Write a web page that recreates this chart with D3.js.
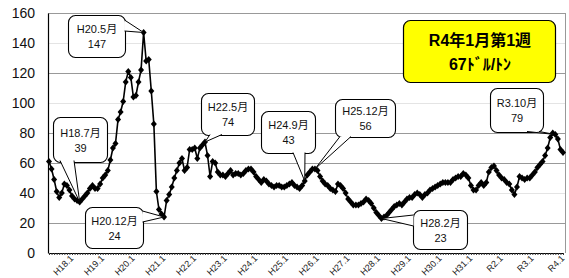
<!DOCTYPE html>
<html>
<head>
<meta charset="utf-8">
<script src="https://cdn.jsdelivr.net/npm/d3@7"></script>
<style>
  body { margin: 0; background: #fff; }
  svg { display: block; font-family: "Liberation Sans", Arial, "Noto Sans CJK JP", sans-serif; }
</style>
</head>
<body>
<svg id="chart"></svg>
<script>
// monthly price ($/t), H17.4 .. R4.1
const p2005 = [61, 56, 49, 41, 37, 40, 46, 45, 42];
const p2006 = [38, 36, 35, 34, 36, 38, 40, 43, 45, 43, 43, 46];
const p2007 = [50, 52, 55, 62, 70, 73, 89, 94, 101, 114, 121, 117];
const p2008 = [104, 105, 114, 122, 147, 128, 129, 108, 86, 41, 29, 26];
const p2009 = [24, 35, 39, 44, 50, 55, 60, 63, 55, 57, 69, 69];
const p2010 = [70, 63, 70, 72, 74, 65, 51, 61, 60, 54, 52, 52];
const p2011 = [51, 53, 55, 52, 53, 53, 52, 53, 55, 56, 56, 54];
const p2012 = [51, 49, 47, 49, 48, 46, 45, 44, 45, 45, 44, 44];
const p2013 = [45, 46, 47, 45, 44, 43, 45, 48, 52, 54, 56, 56];
const p2014 = [55, 51, 48, 46, 45, 43, 42, 41, 46, 45, 43, 40];
const p2015 = [36, 34, 32, 32, 32, 33, 34, 36, 35, 33, 30, 27];
const p2016 = [25, 23, 24, 25, 27, 29, 31, 32, 33, 32, 34, 36];
const p2017 = [37, 37, 39, 40, 39, 37, 39, 40, 42, 43, 44, 45];
const p2018 = [46, 47, 47, 47, 47, 49, 50, 51, 51, 53, 52, 50];
const p2019 = [45, 42, 42, 45, 47, 45, 47, 54, 57, 58, 55, 52];
const p2020 = [50, 49, 47, 46, 42, 39, 44, 51, 50, 49, 50, 50];
const p2021 = [52, 54, 57, 59, 61, 65, 70, 77, 80, 79, 76, 69];
const p2022 = [67];

const prices = [].concat(p2005, p2006, p2007, p2008, p2009, p2010, p2011, p2012,
  p2013, p2014, p2015, p2016, p2017, p2018, p2019, p2020, p2021, p2022);

const yTicks = [0, 20, 40, 60, 80, 100, 120, 140, 160];

// x labels (one per year) and the month index they sit on
const xLabels = ["H18.1", "H19.1", "H20.1", "H21.1", "H22.1", "H23.1", "H24.1", "H25.1", "H26.1",
  "H27.1", "H28.1", "H29.1", "H30.1", "H31.1", "R2.1", "R3.1", "R4.1"];
const xLabelIdx = [9, 21, 33, 45, 57, 69, 81, 93, 105, 117, 129, 141, 153, 165, 177, 189, 201];

// callouts
const calloutTitles = ["H18.7月", "H20.5月", "H20.12月", "H22.5月", "H24.9月", "H25.12月", "H28.2月", "R3.10月"];
const calloutValues = ["39", "147", "24", "74", "43", "56", "23", "79"];
const calloutIdx = [12, 37, 45, 61, 100, 104, 130, 198];

const latestTitle = "R4年1月第1週";
const latestValue = "67ﾄﾞﾙ/ﾄﾝ";

// ---- layout ----
const W = 569, H = 278;
const margin = {top: 13, right: 4, bottom: 25, left: 48};
const width = W - margin.left - margin.right;
const height = H - margin.top - margin.bottom;

// box: x, y, w, h, wedge base point 1, wedge base point 2
const boxLayout = [
  [53, 117, 54, 45, [60, 160.5], [74, 160.5]],
  [68, 15, 57, 42, [124.5, 20], [124.5, 31]],
  [85, 207, 58, 41, [142.5, 211], [142.5, 222]],
  [201, 93, 53, 42, [210, 134.5], [222, 134.5]],
  [261, 111, 54, 42, [293, 152.5], [305, 152.5]],
  [335, 99, 60, 38, [340, 136.5], [351, 136.5]],
  [413, 210, 54, 39, [413.5, 215], [413.5, 226]],
  [490, 88, 53, 44, [527, 131.5], [539, 131.5]]
];

const svg = d3.select("#chart").attr("width", W).attr("height", H);
const g = svg.append("g").attr("transform", `translate(${margin.left},${margin.top})`);

const x = d3.scaleLinear().domain([0, prices.length - 1]).range([1, width - 2]);
const y = d3.scaleLinear().domain([0, 160]).range([height, 0]);

// gridlines (some come out very faint in the original)
const faint = [40, 100, 140];
g.append("g").selectAll("line")
  .data(yTicks.filter(d => d > 0))
  .join("line")
    .attr("x1", 0).attr("x2", width)
    .attr("y1", d => Math.round(y(d)) + 0.5).attr("y2", d => Math.round(y(d)) + 0.5)
    .attr("stroke", d => faint.includes(d) ? "#e4e4e4" : "#999")
    .attr("stroke-width", 1);

g.append("line")
  .attr("x1", width + 0.5).attr("x2", width + 0.5)
  .attr("y1", 0).attr("y2", height)
  .attr("stroke", "#999");

// axes
const yAxisG = g.append("g")
  .call(d3.axisLeft(y).tickValues(yTicks).tickSize(0).tickPadding(13));
yAxisG.selectAll("text").attr("font-size", 14).attr("fill", "#111");
yAxisG.select(".domain").attr("stroke", "#000").attr("stroke-width", 1.2);

const xAxisG = g.append("g")
  .attr("transform", `translate(0,${height})`)
  .call(d3.axisBottom(x).tickValues(d3.range(prices.length)).tickSize(2).tickFormat("").tickSizeOuter(0));
xAxisG.select(".domain").attr("stroke", "#000").attr("stroke-width", 1.2);
xAxisG.selectAll(".tick line").attr("stroke", "#333");

g.append("g").selectAll("text")
  .data(xLabelIdx)
  .join("text")
    .attr("transform", d => `translate(${x(d) + 2},${height + 6}) rotate(-45)`)
    .attr("text-anchor", "end")
    .attr("font-size", 9)
    .attr("fill", "#222")
    .text((d, i) => xLabels[i]);

// price line + diamond markers
g.append("path")
  .datum(prices)
  .attr("fill", "none")
  .attr("stroke", "#000")
  .attr("stroke-width", 1.6)
  .attr("d", d3.line().x((d, i) => x(i)).y(d => y(d)));

g.append("g").selectAll("path")
  .data(prices)
  .join("path")
    .attr("transform", (d, i) => `translate(${x(i)},${y(d)})`)
    .attr("d", "M0,-3.6L3,0L0,3.6L-3,0Z")
    .attr("fill", "#000");

// callouts
const callouts = svg.append("g");
calloutIdx.forEach((idx, i) => {
  const [bx, by, bw, bh, b1, b2] = boxLayout[i];
  const tip = [margin.left + x(idx), margin.top + y(prices[idx])];
  const c = callouts.append("g");
  c.append("rect")
    .attr("x", bx + 0.5).attr("y", by + 0.5)
    .attr("width", bw).attr("height", bh)
    .attr("rx", 7)
    .attr("fill", "#fff").attr("stroke", "#000").attr("stroke-width", 1.1);
  c.append("path")
    .attr("d", `M${b1[0]},${b1[1]}L${tip[0]},${tip[1]}L${b2[0]},${b2[1]}`)
    .attr("fill", "#fff").attr("stroke", "#000").attr("stroke-width", 1);
  c.append("text")
    .attr("x", bx + bw / 2 + 0.5).attr("y", by + bh / 2 - 3)
    .attr("text-anchor", "middle").attr("font-size", 11).attr("fill", "#111")
    .text(calloutTitles[i]);
  c.append("text")
    .attr("x", bx + bw / 2 + 0.5).attr("y", by + bh / 2 + 12)
    .attr("text-anchor", "middle").attr("font-size", 11).attr("fill", "#111")
    .text(calloutValues[i]);
});

// latest price box
const latest = svg.append("g");
latest.append("rect")
  .attr("x", 403.5).attr("y", 20.5).attr("width", 152).attr("height", 62)
  .attr("rx", 7)
  .attr("fill", "#ffff00").attr("stroke", "#000").attr("stroke-width", 1.2);
latest.append("text")
  .attr("x", 480).attr("y", 46)
  .attr("text-anchor", "middle").attr("font-size", 16).attr("font-weight", "bold")
  .text(latestTitle);
latest.append("text")
  .attr("x", 480).attr("y", 70)
  .attr("text-anchor", "middle").attr("font-size", 16).attr("font-weight", "bold")
  .text(latestValue);
</script>
</body>
</html>
